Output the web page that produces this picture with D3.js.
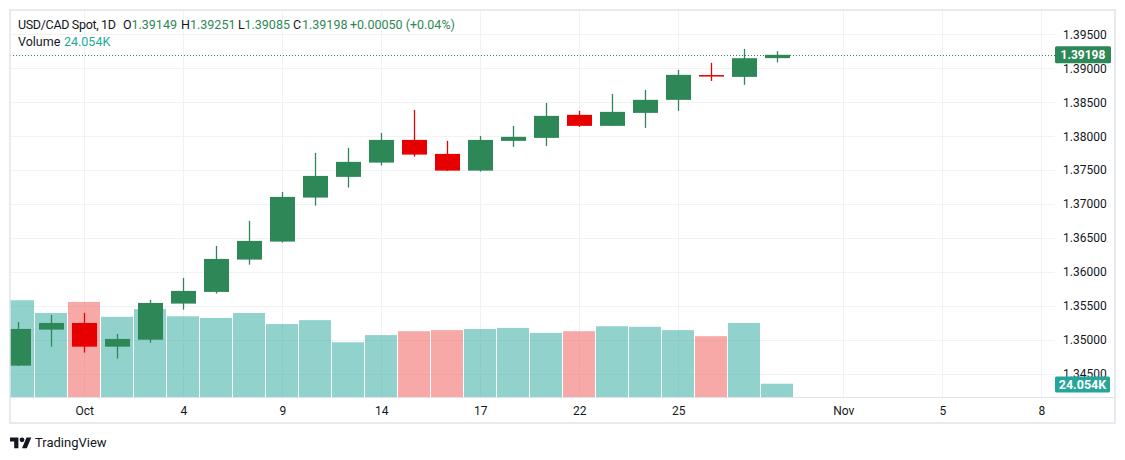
<!DOCTYPE html>
<html><head><meta charset="utf-8">
<script src="https://cdn.jsdelivr.net/npm/d3@7"></script>
<style>
html,body{margin:0;padding:0;background:#fff;}
svg{display:block;font-family:Roboto,"Noto Sans",sans-serif;}
</style></head>
<body><svg id="c" width="1125" height="460"></svg>
<script>
// ---- data ----
const dates = ["2024-09-27","2024-09-30","2024-10-01","2024-10-02","2024-10-03","2024-10-04","2024-10-07","2024-10-08",
  "2024-10-09","2024-10-10","2024-10-11","2024-10-14","2024-10-15","2024-10-16","2024-10-17","2024-10-18",
  "2024-10-21","2024-10-22","2024-10-23","2024-10-24","2024-10-25","2024-10-28","2024-10-29","2024-10-30"];
const opens  = [1.34622,1.35152,1.35250,1.34901,1.35004,1.35535,1.35707,1.36183,1.36448,1.37096,1.37401,1.37611,
  1.37945,1.37739,1.37493,1.37931,1.37975,1.38314,1.38152,1.38343,1.38535,1.38900,1.38873,1.39149];
const highs  = [1.35265,1.35368,1.35398,1.35088,1.35589,1.35913,1.36384,1.36753,1.37180,1.37754,1.37828,1.38049,
  1.38387,1.37931,1.38004,1.38152,1.38490,1.38373,1.38623,1.38682,1.38976,1.39080,1.39286,1.39251];
const lows   = [1.34617,1.34901,1.34813,1.34725,1.34960,1.35446,1.35682,1.36109,1.36433,1.36978,1.37243,1.37567,
  1.37700,1.37490,1.37479,1.37842,1.37857,1.38137,1.38152,1.38122,1.38373,1.38814,1.38756,1.39085];
const closes = [1.35162,1.35250,1.34901,1.35015,1.35545,1.35722,1.36193,1.36458,1.37106,1.37415,1.37622,1.37945,
  1.37729,1.37493,1.37945,1.37990,1.38299,1.38152,1.38358,1.38535,1.38903,1.38895,1.39148,1.39198];
const volumes = [175,152,172,145,159,146,143,152,132,139,99,112,119,121,123,125,116,119,128,127,121,110,134,24.054]; // K
const timeTickIdx = [2,5,8,11,14,17,20,25,28,31];
const timeTickLabels = ["Oct","4","9","14","17","22","25","Nov","5","8"];
const priceTicks = [1.345,1.35,1.355,1.36,1.365,1.37,1.375,1.38,1.385,1.39,1.395];

// ---- layout ----
const svg = d3.select("#c");
const L = 10, R = 1055, T = 10, B = 397;
const UP = "#2e8756", DOWN = "#e60000";
const VUP = "rgba(38,166,154,0.5)", VDOWN = "rgba(239,83,80,0.5)";

const x = d3.scaleLinear().domain([0,1]).range([18.3,51.3]);
const y = d3.scaleLinear().domain([1.345,1.395]).range([373.9,34.3]);
const yv = d3.scaleLinear().domain([0,700]).range([B, B-387]);

svg.append("defs").append("clipPath").attr("id","plot")
  .append("rect").attr("x",L).attr("y",T).attr("width",R-L).attr("height",B-T);

// grid
const g = svg.append("g");
g.selectAll("line.h").data(priceTicks).join("line")
  .attr("x1",L).attr("x2",R).attr("y1",d=>Math.round(y(d))+0.5).attr("y2",d=>Math.round(y(d))+0.5)
  .attr("stroke","#f0f2f6").attr("stroke-width",1);
g.selectAll("line.v").data(timeTickIdx).join("line")
  .attr("y1",T).attr("y2",B).attr("x1",d=>Math.round(x(d))+0.5).attr("x2",d=>Math.round(x(d))+0.5)
  .attr("stroke","#f0f2f6").attr("stroke-width",1);

const plot = svg.append("g").attr("clip-path","url(#plot)");
const idx = d3.range(dates.length);

// volume
plot.selectAll("rect.vol").data(idx).join("rect")
  .attr("x",i=>x(i)-16.3).attr("width",32)
  .attr("y",i=>yv(volumes[i])).attr("height",i=>B-yv(volumes[i]))
  .attr("fill",i=>closes[i]>=opens[i]?VUP:VDOWN);

// candles
plot.selectAll("line.wick").data(idx).join("line")
  .attr("x1",i=>Math.round(x(i))+0.5).attr("x2",i=>Math.round(x(i))+0.5)
  .attr("y1",i=>y(highs[i])).attr("y2",i=>y(lows[i]))
  .attr("stroke",i=>closes[i]>=opens[i]?UP:DOWN).attr("stroke-width",1.3);
plot.selectAll("rect.body").data(idx).join("rect")
  .attr("x",i=>Math.round(x(i))-12).attr("width",25)
  .attr("y",i=>y(Math.max(opens[i],closes[i])))
  .attr("height",i=>Math.max(1.5,Math.abs(y(opens[i])-y(closes[i]))))
  .attr("fill",i=>closes[i]>=opens[i]?UP:DOWN);

// last price dotted line
const lastC = closes[closes.length-1];
svg.append("line").attr("x1",L).attr("x2",R).attr("y1",Math.round(y(lastC))+0.5).attr("y2",Math.round(y(lastC))+0.5)
  .attr("stroke",UP).attr("stroke-width",1).attr("stroke-dasharray","1,2");

// time axis
svg.append("line").attr("x1",L).attr("x2",1115).attr("y1",B+0.5).attr("y2",B+0.5).attr("stroke","#e0e3eb");
const xa = d3.axisBottom(x).tickValues(timeTickIdx).tickFormat((d,i)=>timeTickLabels[i]).tickSize(0).tickPadding(0);
const xg = svg.append("g").attr("transform",`translate(0,${B})`).call(xa);
xg.select(".domain").remove();
xg.selectAll("text").attr("dy",0).attr("y",18).attr("fill","#131722").attr("font-size",12)
  .attr("font-family","Roboto,sans-serif");

// price axis
const ya = d3.axisRight(y).tickValues(priceTicks).tickFormat(d3.format(".5f")).tickSize(0).tickPadding(0);
const yg = svg.append("g").attr("transform","translate(1063,0)").call(ya);
yg.select(".domain").remove();
yg.selectAll("text").attr("x",0).attr("fill","#131722").attr("font-size",12).attr("font-family","Roboto,sans-serif");

// price label
const pl = svg.append("g").attr("transform",`translate(1055,${y(lastC)})`);
pl.append("rect").attr("x",0).attr("y",-8.5).attr("width",56).attr("height",17).attr("rx",1.5).attr("fill",UP);
pl.append("text").attr("x",28).attr("y",0).attr("dy","0.35em").attr("text-anchor","middle")
  .attr("fill","#fff").attr("font-size",12).attr("font-weight","bold").text(d3.format(".5f")(lastC));

// volume label
const lastV = volumes[volumes.length-1];
const vl = svg.append("g").attr("transform",`translate(1055,384.5)`);
vl.append("rect").attr("x",0).attr("y",-8).attr("width",55).attr("height",16).attr("rx",1.5).attr("fill","#26a69a");
vl.append("text").attr("x",27.5).attr("y",0).attr("dy","0.35em").attr("text-anchor","middle")
  .attr("fill","#fff").attr("font-size",12.5).attr("font-weight","bold").text(d3.format(".3f")(lastV)+"K");

// frame
svg.append("rect").attr("x",10).attr("y",10).attr("width",1105).attr("height",413)
  .attr("fill","none").attr("stroke","#e0e3eb").attr("stroke-width",1.5);

// legend
const n = closes.length-1;
const f5 = d3.format(".5f");
const chg = closes[n]-closes[n-1];
const lgd = svg.append("g").attr("font-size",12.5);
lgd.append("text").attr("x",18).attr("y",29).attr("fill","#131722")
  .attr("textLength",98).attr("lengthAdjust","spacing").text("USD/CAD Spot, 1D");
[["O",opens[n],123,131.5],["H",highs[n],181,190],["L",lows[n],238,244.5],["C",closes[n],293,302]].forEach(([k,v,px,vx])=>{
  lgd.append("text").attr("x",px).attr("y",29).attr("fill","#131722").text(k);
  lgd.append("text").attr("x",vx).attr("y",29).attr("fill",UP).text(f5(v));
});
lgd.append("text").attr("x",350).attr("y",29).attr("fill",UP)
  .text((chg>=0?"+":"")+f5(chg)+" ("+(chg>=0?"+":"")+d3.format(".2f")(chg/closes[n-1]*100)+"%)");
lgd.append("text").attr("x",18).attr("y",46).attr("fill","#131722").text("Volume");
lgd.append("text").attr("x",64).attr("y",46).attr("fill","#22ab94").text(d3.format(".3f")(lastV)+"K");

// logo
const lg = svg.append("g").attr("transform","translate(10,435) scale(0.6)");
lg.append("path").attr("d","M14 22H7V11H0V4h14v18zM28 22h-8l7.5-18h8L28 22z").attr("fill","#131722");
lg.append("circle").attr("cx",20).attr("cy",8).attr("r",4).attr("fill","#131722");
svg.append("text").attr("x",35).attr("y",447).attr("font-size",13).attr("fill","#131722").text("TradingView");
</script></body></html>
